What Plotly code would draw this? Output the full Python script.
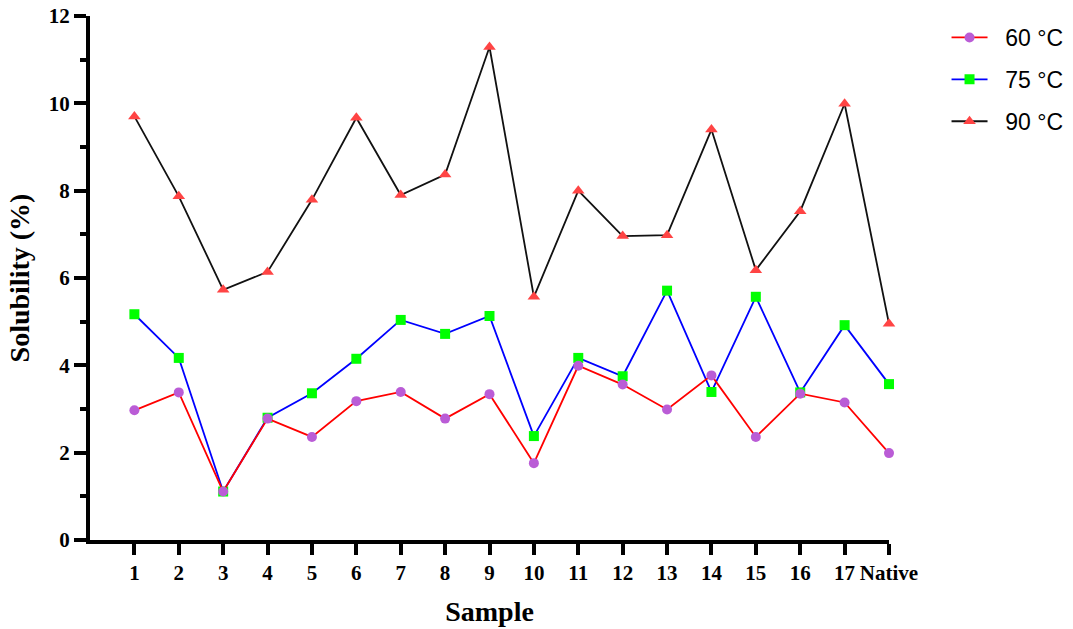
import plotly.graph_objects as go

# Sample positions on the x axis and their labels
x_pos = list(range(1, 19))
x_labels = [str(i) for i in range(1, 18)] + ["Native"]
y_ticks = [0, 2, 4, 6, 8, 10, 12]

# Solubility (%) at each gelatinisation temperature
sol_60 = [2.97, 3.38, 1.11, 2.78, 2.36, 3.18, 3.39, 2.78, 3.34, 1.76,
          3.99, 3.56, 2.99, 3.77, 2.36, 3.35, 3.15, 1.99]
sol_75 = [5.17, 4.17, 1.11, 2.80, 3.36, 4.15, 5.04, 4.72, 5.13, 2.38,
          4.17, 3.75, 5.71, 3.39, 5.57, 3.38, 4.92, 3.57]
sol_90 = [9.70, 7.87, 5.73, 6.14, 7.79, 9.67, 7.90, 8.37, 11.29, 5.57,
          8.00, 6.96, 6.98, 9.40, 6.18, 7.53, 9.99, 4.95]

# padding between the legend line sample and its label
pad = "\u00a0\u00a0"

fig = go.Figure()

# drawn 90 -> 75 -> 60 so the 60 °C series sits on top
fig.add_trace(go.Scatter(
    x=x_pos, y=sol_90, name=pad + "90 °C", mode="lines+markers",
    line=dict(color="#111111", width=1.8),
    marker=dict(symbol="triangle-up", size=11, color="#FF4444"),
    legendgroup="g90", legendrank=3, cliponaxis=False))
fig.add_trace(go.Scatter(
    x=x_pos, y=sol_75, name=pad + "75 °C", mode="lines+markers",
    line=dict(color="#0000FF", width=1.8),
    marker=dict(symbol="square", size=10, color="#00FF00"),
    legendgroup="g75", legendrank=2, cliponaxis=False))
fig.add_trace(go.Scatter(
    x=x_pos, y=sol_60, name=pad + "60 °C", mode="lines+markers",
    line=dict(color="#FF0000", width=1.8),
    marker=dict(symbol="circle", size=10, color="#BA5CD6"),
    legendgroup="g60", legendrank=1, cliponaxis=False))

tick_font = dict(family="Liberation Serif", size=21, color="black")
title_font = dict(family="Liberation Serif", size=28, color="black")

fig.update_layout(
    width=1073, height=629,
    margin=dict(l=90, r=184, t=16, b=89, autoexpand=False),
    paper_bgcolor="white", plot_bgcolor="white",
    showlegend=True,
    legend=dict(
        x=1.072, y=1.0, xanchor="left", yanchor="top",
        font=dict(family="Liberation Sans", size=23, color="black"),
        tracegroupgap=9, bgcolor="rgba(0,0,0,0)",
        itemwidth=36, traceorder="grouped"),
    font=dict(family="Liberation Serif"),
)

fig.update_xaxes(
    range=[0, 18], tickvals=x_pos,
    ticktext=[f"<b>{t}</b>" for t in x_labels],
    showline=True, linecolor="black", linewidth=4,
    ticks="outside", ticklen=11, tickwidth=4, tickcolor="black",
    tickfont=tick_font, showgrid=False, zeroline=False, automargin=False,
    title=dict(text="<b>Sample</b>", font=title_font, standoff=18),
)
fig.update_yaxes(
    range=[0, 12], tickvals=y_ticks,
    ticktext=[f"<b>{v}</b>" for v in y_ticks],
    showline=True, linecolor="black", linewidth=4,
    ticks="outside", ticklen=12, tickwidth=4, tickcolor="black",
    minor=dict(dtick=1, ticks="outside", ticklen=6, tickwidth=4, tickcolor="black"),
    tickfont=tick_font, showgrid=False, zeroline=False, automargin=False,
    title=dict(text="<b>Solubility (%)</b>", font=title_font, standoff=12),
)

fig.write_html("out.html")
